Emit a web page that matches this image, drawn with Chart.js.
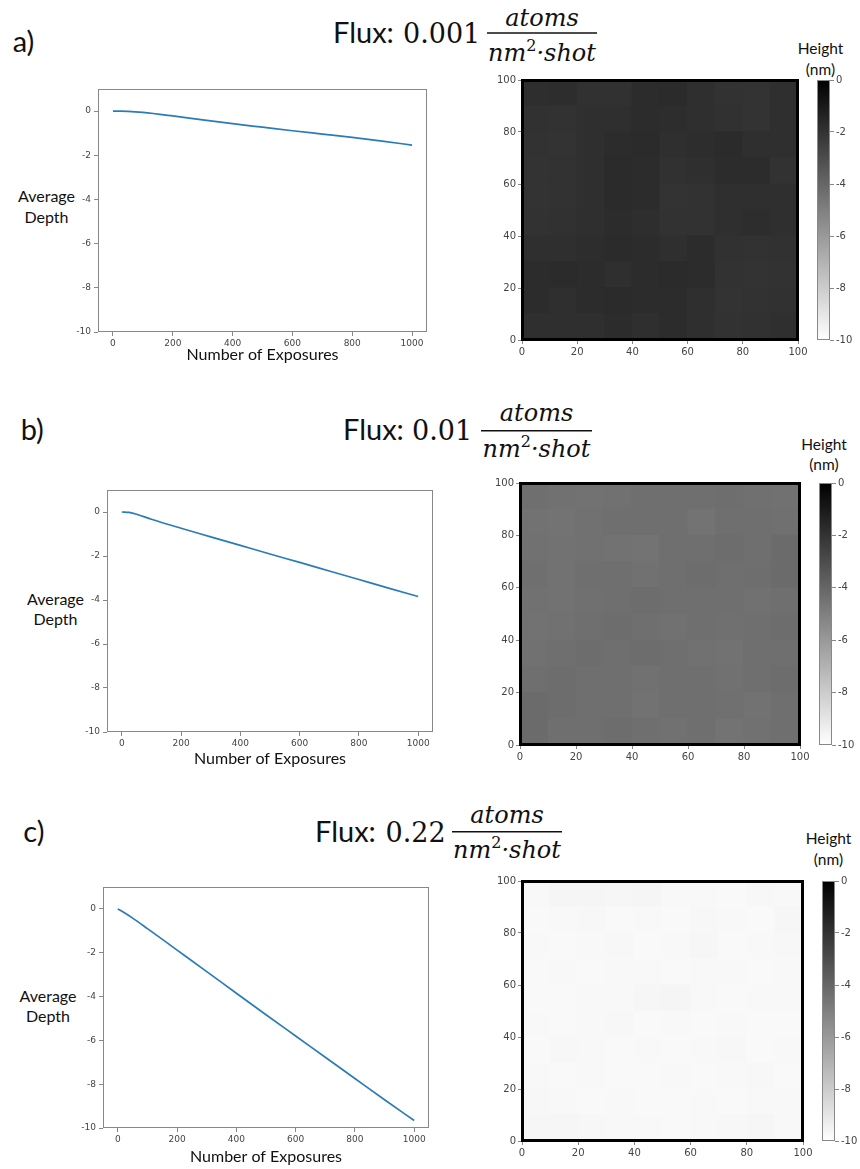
<!DOCTYPE html>
<html><head><meta charset="utf-8">
<script src="https://cdn.jsdelivr.net/npm/chart.js@4.4.1/dist/chart.umd.min.js"></script>
<style>
html,body{margin:0;padding:0;background:#fff;}
#wrap{position:relative;width:860px;height:1169px;overflow:hidden;background:#fff;}
#wrap canvas{position:absolute;}
#txt{position:absolute;left:0;top:0;}
</style></head>
<body><div id="wrap"><svg id="txt" width="860" height="1169" xmlns="http://www.w3.org/2000/svg"></svg></div>
<script>
// ---------------- data ----------------
const exposures = [0, 25, 50, 100, 200, 300, 400, 500, 600, 700, 800, 900, 1000];
const depthA = [0, 0, -0.01, -0.06, -0.22, -0.40, -0.57, -0.73, -0.89, -1.04, -1.19, -1.36, -1.54];
const depthB = [0, -0.02, -0.10, -0.33, -0.74, -1.13, -1.52, -1.91, -2.29, -2.68, -3.07, -3.46, -3.84];
const depthC = [0, -0.20, -0.42, -0.90, -1.88, -2.86, -3.85, -4.83, -5.80, -6.77, -7.74, -8.71, -9.66];
const depthTicks = [-10, -8, -6, -4, -2, 0];
const exposureTicks = [0, 200, 400, 600, 800, 1000];
const mapTicks = [0, 20, 40, 60, 80, 100];
const heightTicks = [-10, -8, -6, -4, -2, 0];
const heightRange = [-10, 0];
const panelLabels = ['a)', 'b)', 'c)'];
const fluxValues = ['0.001', '0.01', '0.22'];

// height maps (nm), rows listed top (y=100) to bottom (y=0), columns left to right
const heightA = [
  [-1.79, -1.77, -1.91, -1.92, -1.72, -1.70, -1.84, -1.98, -2.00, -1.86],
  [-1.93, -1.98, -1.86, -1.84, -1.71, -1.77, -1.85, -1.93, -1.99, -1.84],
  [-1.98, -2.00, -1.84, -1.72, -1.70, -1.86, -1.78, -1.70, -1.85, -1.86],
  [-2.00, -1.97, -1.86, -1.70, -1.71, -1.91, -1.84, -1.72, -1.73, -1.96],
  [-1.99, -1.98, -1.85, -1.70, -1.72, -1.99, -1.98, -1.86, -1.84, -1.85],
  [-1.98, -1.92, -1.84, -1.71, -1.79, -1.98, -1.97, -1.85, -1.77, -1.86],
  [-1.86, -1.84, -1.78, -1.70, -1.71, -1.85, -1.72, -1.92, -1.98, -1.93],
  [-1.72, -1.70, -1.72, -1.84, -1.71, -1.70, -1.72, -1.98, -2.00, -1.97],
  [-1.71, -1.84, -1.72, -1.70, -1.72, -1.71, -1.84, -1.99, -1.98, -1.91],
  [-1.84, -1.86, -1.85, -1.71, -1.84, -1.72, -1.85, -1.98, -1.92, -1.86]
];
const heightB = [
  [-4.35, -4.42, -4.48, -4.43, -4.36, -4.34, -4.35, -4.33, -4.41, -4.43],
  [-4.49, -4.50, -4.42, -4.36, -4.34, -4.35, -4.50, -4.36, -4.34, -4.41],
  [-4.42, -4.49, -4.43, -4.48, -4.51, -4.35, -4.34, -4.28, -4.35, -4.21],
  [-4.36, -4.48, -4.35, -4.34, -4.42, -4.36, -4.28, -4.35, -4.33, -4.20],
  [-4.43, -4.49, -4.41, -4.35, -4.27, -4.34, -4.36, -4.35, -4.42, -4.34],
  [-4.48, -4.42, -4.35, -4.28, -4.36, -4.43, -4.34, -4.41, -4.35, -4.29],
  [-4.42, -4.35, -4.27, -4.34, -4.28, -4.35, -4.42, -4.49, -4.36, -4.34],
  [-4.34, -4.28, -4.36, -4.35, -4.43, -4.34, -4.36, -4.42, -4.35, -4.27],
  [-4.20, -4.27, -4.35, -4.36, -4.48, -4.35, -4.34, -4.41, -4.49, -4.35],
  [-4.21, -4.34, -4.36, -4.28, -4.35, -4.42, -4.34, -4.50, -4.43, -4.35]
];
const heightC = [
  [-9.72, -9.60, -9.62, -9.66, -9.60, -9.74, -9.73, -9.75, -9.68, -9.74],
  [-9.76, -9.74, -9.70, -9.77, -9.72, -9.76, -9.70, -9.74, -9.76, -9.65],
  [-9.74, -9.77, -9.73, -9.70, -9.76, -9.72, -9.66, -9.77, -9.73, -9.68],
  [-9.77, -9.73, -9.76, -9.74, -9.72, -9.75, -9.73, -9.72, -9.75, -9.74],
  [-9.75, -9.77, -9.72, -9.74, -9.64, -9.62, -9.74, -9.76, -9.73, -9.72],
  [-9.74, -9.75, -9.73, -9.70, -9.76, -9.74, -9.75, -9.73, -9.76, -9.75],
  [-9.76, -9.70, -9.74, -9.75, -9.73, -9.77, -9.74, -9.70, -9.75, -9.73],
  [-9.73, -9.75, -9.72, -9.76, -9.75, -9.73, -9.76, -9.74, -9.70, -9.76],
  [-9.70, -9.74, -9.76, -9.73, -9.77, -9.75, -9.73, -9.76, -9.72, -9.74],
  [-9.64, -9.66, -9.70, -9.74, -9.72, -9.75, -9.74, -9.70, -9.66, -9.72]
];
const depthSeries = [depthA, depthB, depthC];
const heightMaps = [heightA, heightB, heightC];

// ---------------- layout ----------------
const layoutPanels = [
  { label:{x:12.7,y:52}, flux:{x:333,y:43}, num:{x:403}, frac:{x1:487,x2:597,y:33,numY:26,denY:61},
    avg:{x:46.5,y1:202,y2:222.7}, hgt:{x:820.5,y1:54.3,y2:74.5},
    line:{l:98,t:89,r:427,b:332,xH:31}, heat:{l:522,t:80,r:798,b:340}, cbar:{l:817,t:80,r:830,b:340} },
  { label:{x:20.7,y:440}, flux:{x:343,y:440}, num:{x:412}, frac:{x1:481,x2:592,y:430.7,numY:420.7,denY:456.7},
    avg:{x:55.5,y1:605,y2:625}, hgt:{x:824,y1:450,y2:470},
    line:{l:107,t:490,r:433,b:732,xH:35}, heat:{l:520,t:483,r:800,b:745}, cbar:{l:819,t:483,r:832,b:745} },
  { label:{x:23.3,y:841.7}, flux:{x:315,y:841.7}, num:{x:385.5}, frac:{x1:452,x2:562,y:831.7,numY:822.7,denY:858.3},
    avg:{x:48,y1:1001.7,y2:1021.7}, hgt:{x:828.5,y1:844.3,y2:865},
    line:{l:103,t:887,r:429,b:1128,xH:37}, heat:{l:522,t:881,r:803,b:1141}, cbar:{l:822,t:881,r:835,b:1141} }
];

const wrap = document.getElementById('wrap');
function makeCanvas(area, m) {
  const c = document.createElement('canvas');
  const left = area.l - m.left, top = area.t - m.top;
  const w = m.left + (area.r - area.l) + m.right;
  const h = m.top + (area.b - area.t) + m.bottom;
  c.width = w; c.height = h;
  c.style.left = left + 'px'; c.style.top = top + 'px';
  c.style.width = w + 'px'; c.style.height = h + 'px';
  wrap.appendChild(c);
  return c;
}

function grayFor(v) {
  const t = (v - heightRange[1]) / (heightRange[0] - heightRange[1]);
  const g = Math.round(255 * Math.max(0, Math.min(1, t)));
  return 'rgb(' + g + ',' + g + ',' + g + ')';
}

const framePlugin = {
  id: 'frame',
  afterDatasetsDraw(chart, args, opts) {
    const a = chart.chartArea, ctx = chart.ctx;
    const o = (opts.width % 2) ? 0.5 : 0;
    ctx.save();
    ctx.strokeStyle = opts.color; ctx.lineWidth = opts.width;
    ctx.strokeRect(Math.round(a.left) + o, Math.round(a.top) + o, Math.round(a.right - a.left) - 2 * o, Math.round(a.bottom - a.top) - 2 * o);
    ctx.restore();
  }
};

const tickFont = (s) => ({ family: 'DejaVu Sans', size: s });
const fixedTicks = (arr) => (s) => { s.ticks = arr.map(v => ({ value: v })); };
const fmt = (v) => String(v);
const common = { responsive: false, animation: false, devicePixelRatio: 1,
  plugins: { legend: { display: false }, tooltip: { enabled: false } } };

layoutPanels.forEach((P, k) => {
  // ---- line chart ----
  const lg = P.line;
  const lc = makeCanvas(lg, { left: lg.l, top: 10, right: 14, bottom: lg.xH });
  new Chart(lc, {
    type: 'scatter',
    data: { datasets: [{ data: exposures.map((x, i) => ({ x: x, y: depthSeries[k][i] })),
      showLine: true, borderColor: '#2a7cb8', borderWidth: 1.7, pointRadius: 0,
      cubicInterpolationMode: 'monotone', fill: false }] },
    options: Object.assign({}, common, {
      layout: { padding: { left: 0, bottom: 0, top: 10, right: 14 } },
      plugins: Object.assign({}, common.plugins, { frame: { color: '#888', width: 1 } }),
      scales: {
        x: { type: 'linear', min: -50, max: 1050,
          afterBuildTicks: fixedTicks(exposureTicks), afterFit: (s) => { s.height = lg.xH; },
          ticks: { font: tickFont(9), color: '#444', padding: 2, maxRotation: 0, autoSkip: false, callback: fmt },
          grid: { drawOnChartArea: false, tickLength: 4, color: '#888' }, border: { display: false },
          title: { display: true, text: 'Number of Exposures', color: '#111',
            font: { family: 'Lato', size: 16, lineHeight: 1 }, padding: { top: 0, bottom: 0 } } },
        y: { type: 'linear', min: -10, max: 1,
          afterBuildTicks: fixedTicks(depthTicks), afterFit: (s) => { s.width = lg.l; },
          ticks: { font: tickFont(9), color: '#444', padding: 3, autoSkip: false, callback: fmt },
          grid: { drawOnChartArea: false, tickLength: 4, color: '#888' }, border: { display: false } }
      }
    }),
    plugins: [framePlugin]
  });

  // ---- height map ----
  const hg = P.heat, grid = heightMaps[k], n = grid.length, cell = 100 / n;
  const datasets = [];
  for (let i = 0; i < n; i++) {
    const row = grid[n - 1 - i];
    datasets.push({ data: row.map((v, j) => ({ x: (j + 0.5) * cell, y: cell })),
      backgroundColor: row.map(grayFor), borderWidth: 0, barPercentage: 1, categoryPercentage: 1, inflateAmount: 0.6 });
  }
  const hc = makeCanvas(hg, { left: 44, top: 12, right: 12, bottom: 24 });
  new Chart(hc, {
    type: 'bar',
    data: { datasets: datasets },
    options: Object.assign({}, common, {
      layout: { padding: { left: 0, bottom: 0, top: 12, right: 12 } },
      plugins: Object.assign({}, common.plugins, { frame: { color: '#000', width: 3 } }),
      scales: {
        x: { type: 'linear', stacked: true, offset: false, min: 0, max: 100,
          afterBuildTicks: fixedTicks(mapTicks), afterFit: (s) => { s.height = 24; },
          ticks: { font: tickFont(10), color: '#444', padding: 2, maxRotation: 0, autoSkip: false, callback: fmt },
          grid: { offset: false, drawOnChartArea: false, tickLength: 4, color: '#888' }, border: { display: false } },
        y: { type: 'linear', stacked: true, min: 0, max: 100,
          afterBuildTicks: fixedTicks(mapTicks), afterFit: (s) => { s.width = 44; },
          ticks: { font: tickFont(10), color: '#444', padding: 2, autoSkip: false, callback: fmt },
          grid: { drawOnChartArea: false, tickLength: 4, color: '#888' }, border: { display: false } }
      }
    }),
    plugins: [framePlugin]
  });

  // ---- colour bar ----
  const cg = P.cbar, cbRight = 860 - cg.r;
  const cc = makeCanvas(cg, { left: 4, top: 12, right: cbRight, bottom: 12 });
  new Chart(cc, {
    type: 'bar',
    data: { labels: ['Height'], datasets: [{ data: [heightRange], borderWidth: 0, barPercentage: 1, categoryPercentage: 1,
      backgroundColor: (ctx) => {
        const y = ctx.chart.scales.y;
        if (!y || !ctx.chart.chartArea) return '#888';
        const g = ctx.chart.ctx.createLinearGradient(0, y.getPixelForValue(heightRange[0]), 0, y.getPixelForValue(heightRange[1]));
        g.addColorStop(0, grayFor(heightRange[0]));
        g.addColorStop(1, grayFor(heightRange[1]));
        return g;
      } }] },
    options: Object.assign({}, common, {
      layout: { padding: { left: 4, top: 12, bottom: 12, right: 0 } },
      plugins: Object.assign({}, common.plugins, { frame: { color: '#888', width: 1 } }),
      scales: {
        x: { display: false, offset: true },
        y: { position: 'right', min: heightRange[0], max: heightRange[1],
          afterBuildTicks: fixedTicks(heightTicks), afterFit: (s) => { s.width = cbRight; },
          ticks: { font: tickFont(10), color: '#444', padding: 2, autoSkip: false, callback: fmt },
          grid: { drawOnChartArea: false, tickLength: 4, color: '#888' }, border: { display: false } }
      }
    }),
    plugins: [framePlugin]
  });
});

// ---------------- text ----------------
const NS = 'http://www.w3.org/2000/svg';
const svg = document.getElementById('txt');
function addText(str, x, y, attrs) {
  const t = document.createElementNS(NS, 'text');
  if (str !== null) t.textContent = str;
  t.setAttribute('x', x); t.setAttribute('y', y);
  for (const key in attrs) t.setAttribute(key, attrs[key]);
  svg.appendChild(t);
  return t;
}
function addSpan(parent, str, attrs) {
  const s = document.createElementNS(NS, 'tspan');
  s.textContent = str;
  for (const key in attrs) s.setAttribute(key, attrs[key]);
  parent.appendChild(s);
  return s;
}
const sans = { 'font-family': 'Lato, "Open Sans", sans-serif', fill: '#111' };
const serifI = { 'font-family': '"DejaVu Serif", serif', 'font-style': 'italic', 'font-size': 24, fill: '#111', 'text-anchor': 'middle' };
layoutPanels.forEach((P, k) => {
  addText(panelLabels[k], P.label.x, P.label.y, Object.assign({}, sans, { 'font-size': 29 }));
  addText('Flux:', P.flux.x, P.flux.y, Object.assign({}, sans, { 'font-size': 29 }));
  addText(fluxValues[k], P.num.x, P.flux.y, { 'font-family': '"DejaVu Serif", serif', 'font-size': 27, fill: '#111' });
  const cx = (P.frac.x1 + P.frac.x2) / 2;
  addText('atoms', cx, P.frac.numY, serifI);
  const den = addText(null, cx, P.frac.denY, serifI);
  addSpan(den, 'nm', {});
  addSpan(den, '2', { 'font-style': 'normal', 'font-size': 16, dy: -10 });
  addSpan(den, '\u00B7shot', { dy: 10 });
  const ln = document.createElementNS(NS, 'line');
  ln.setAttribute('x1', P.frac.x1); ln.setAttribute('x2', P.frac.x2);
  ln.setAttribute('y1', P.frac.y); ln.setAttribute('y2', P.frac.y);
  ln.setAttribute('stroke', '#111'); ln.setAttribute('stroke-width', 1.6);
  svg.appendChild(ln);
  addText('Average', P.avg.x, P.avg.y1, Object.assign({}, sans, { 'font-size': 16, 'text-anchor': 'middle' }));
  addText('Depth', P.avg.x, P.avg.y2, Object.assign({}, sans, { 'font-size': 16, 'text-anchor': 'middle' }));
  addText('Height', P.hgt.x, P.hgt.y1, Object.assign({}, sans, { 'font-size': 15.5, 'text-anchor': 'middle' }));
  addText('(nm)', P.hgt.x, P.hgt.y2, Object.assign({}, sans, { 'font-size': 15.5, 'text-anchor': 'middle' }));
});
</script>
</body></html>
